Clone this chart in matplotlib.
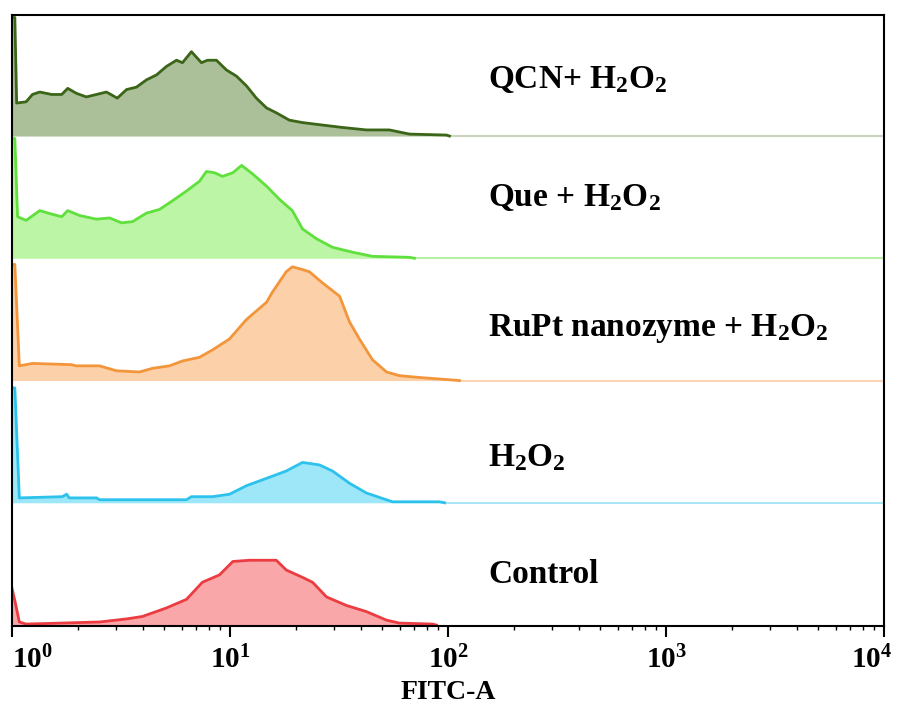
import matplotlib
matplotlib.use("Agg")
import matplotlib.pyplot as plt
from matplotlib.transforms import ScaledTranslation

plt.rcParams["font.family"] = "Liberation Serif"
plt.rcParams["font.weight"] = "bold"
plt.rcParams["mathtext.fontset"] = "custom"
plt.rcParams["mathtext.rm"] = "Liberation Serif:bold"
plt.rcParams["mathtext.bf"] = "Liberation Serif:bold"
plt.rcParams["mathtext.default"] = "bf"

# FITC-A values, with normalised counts (1 = height of one row).
qcn_x = [1.0, 1.03, 1.05, 1.16, 1.24, 1.34, 1.52, 1.69, 1.80, 1.97, 2.19, 2.44, 2.71, 3.04,
         3.35, 3.72, 4.14, 4.60, 5.11, 5.68, 6.05, 6.65, 7.39, 7.88, 8.66, 9.63, 10.7, 11.9,
         13.2, 14.7, 16.3, 18.7, 21.5, 26.5, 32.8, 42.2, 53.8, 66.5, 98.3, 101.5]
qcn_y = [0.97, 0.97, 0.27, 0.28, 0.34, 0.36, 0.34, 0.34, 0.39, 0.35, 0.32, 0.34, 0.36, 0.31,
         0.38, 0.40, 0.46, 0.50, 0.57, 0.62, 0.60, 0.69, 0.60, 0.62, 0.62, 0.54, 0.49, 0.41,
         0.31, 0.23, 0.19, 0.13, 0.11, 0.09, 0.07, 0.05, 0.05, 0.016, 0.008, 0.0]

que_x = [1.0, 1.03, 1.06, 1.16, 1.34, 1.53, 1.69, 1.80, 2.04, 2.44, 2.80, 3.18, 3.57, 4.14,
         4.75, 5.44, 6.31, 7.24, 7.79, 8.48, 9.23, 10.3, 11.3, 12.7, 14.7, 16.9, 19.3, 21.5,
         24.9, 29.5, 36.4, 45.0, 66.5, 70.1]
que_y = [0.98, 0.98, 0.34, 0.31, 0.39, 0.36, 0.34, 0.39, 0.35, 0.32, 0.33, 0.29, 0.30, 0.37,
         0.40, 0.47, 0.55, 0.63, 0.71, 0.70, 0.67, 0.70, 0.76, 0.69, 0.59, 0.48, 0.39, 0.24,
         0.16, 0.09, 0.05, 0.016, 0.008, 0.0]

rupt_x = [1.0, 1.03, 1.08, 1.24, 1.87, 1.97, 2.52, 3.01, 3.84, 4.41, 5.27, 6.05, 7.24, 8.30,
          9.94, 11.9, 14.7, 15.6, 18.1, 19.3, 21.3, 23.1, 26.5, 31.8, 35.3, 39.2, 45.0, 52.2,
          59.8, 73.9, 112.8]
rupt_y = [0.95, 0.95, 0.12, 0.14, 0.13, 0.12, 0.12, 0.08, 0.07, 0.10, 0.12, 0.16, 0.19, 0.25,
          0.34, 0.50, 0.64, 0.72, 0.89, 0.93, 0.91, 0.89, 0.80, 0.69, 0.48, 0.34, 0.17, 0.07,
          0.04, 0.025, 0.0]

h2o2_x = [1.0, 1.03, 1.08, 1.70, 1.78, 1.83, 2.44, 2.52, 6.31, 6.65, 8.30, 9.94, 11.9, 14.7,
          18.1, 21.5, 25.7, 29.5, 35.3, 42.2, 55.6, 91.3, 96.3]
h2o2_y = [0.94, 0.94, 0.04, 0.05, 0.07, 0.04, 0.04, 0.025, 0.025, 0.05, 0.05, 0.07, 0.14, 0.20,
          0.26, 0.33, 0.31, 0.26, 0.16, 0.08, 0.008, 0.008, 0.0]

control_x = [1.0, 1.03, 1.08, 1.16, 2.52, 3.35, 3.96, 5.11, 6.31, 7.47, 8.94, 10.3, 12.3, 16.3,
             18.1, 21.5, 23.9, 27.7, 34.2, 42.2, 52.2, 59.8, 84.8, 88.4]
control_y = [0.30, 0.20, 0.025, 0.008, 0.025, 0.05, 0.07, 0.14, 0.21, 0.35, 0.41, 0.52, 0.53,
             0.53, 0.45, 0.39, 0.35, 0.23, 0.16, 0.11, 0.04, 0.016, 0.008, 0.0]

labels = ["Control", r"H$_2$O$_2$", r"RuPt nanozyme + H$_2$O$_2$", r"Que + H$_2$O$_2$",
          r"QCN+ H$_2$O$_2$"]
tick_values = [1, 10, 100, 1000, 10000]
tick_labels = [r"$10^0$", r"$10^1$", r"$10^2$", r"$10^3$", r"$10^4$"]

fill_colors = ["#f9a7a9", "#9ee7f8", "#fcd1aa", "#bdf5a6", "#abbf98"]
line_colors = ["#ea3c41", "#2cc2ec", "#f3953a", "#5fe03c", "#3b6518"]
base_colors = [None, "#a9e6f5", "#fbd5b5", "#b6f0a2", "#c9d4bf"]

# Text baselines in axes fraction, one for each row (bottom to top).
label_y = [0.070, 0.262, 0.474, 0.687, 0.880]

series = [(control_x, control_y), (h2o2_x, h2o2_y), (rupt_x, rupt_y), (que_x, que_y),
          (qcn_x, qcn_y)]

fig = plt.figure(figsize=(8.99, 7.08), dpi=100)
ax = fig.add_axes([0.0134, 0.1158, 0.9700, 0.8630])

# Draw the rows from the top down so every lower row sits over the baseline of the row above.
for i in range(len(series) - 1, -1, -1):
    xs, ys = series[i]
    offset = i
    shifted = [v + offset for v in ys]
    ax.fill_between(xs, offset, shifted, color=fill_colors[i], lw=0, zorder=2 + (5 - i))
    ax.plot(xs, shifted, color=line_colors[i], lw=2, zorder=3 + (5 - i))
    if base_colors[i] is not None:
        ax.plot([xs[-1], 1e4], [offset, offset], color=base_colors[i], lw=1.5, zorder=3)
    ax.text(0.546, label_y[i], labels[i], transform=ax.transAxes, fontsize=24,
            fontweight="bold", ha="left", va="baseline")

ax.set_xscale("log")
ax.set_xlim(1, 1e4)
ax.set_ylim(-0.008, 4.99)
ax.set_yticks([])
ax.set_xticks(tick_values, labels=tick_labels, fontsize=21)
ax.tick_params(axis="x", which="major", length=8, width=1.5, pad=6)
ax.tick_params(axis="x", which="minor", length=3, width=1)
for s in ax.spines.values():
    s.set_linewidth(1.5)
    s.set_zorder(20)
ax.set_xlabel("FITC-A", fontsize=20, fontweight="bold", labelpad=4)

# The first and last tick labels are pushed inwards like in the original figure.
xlabels = ax.get_xticklabels()
xlabels[0].set_transform(xlabels[0].get_transform() + ScaledTranslation(0.2, 0, fig.dpi_scale_trans))
xlabels[-1].set_transform(xlabels[-1].get_transform() + ScaledTranslation(-0.13, 0, fig.dpi_scale_trans))

plt.savefig("out.png", dpi=100)
